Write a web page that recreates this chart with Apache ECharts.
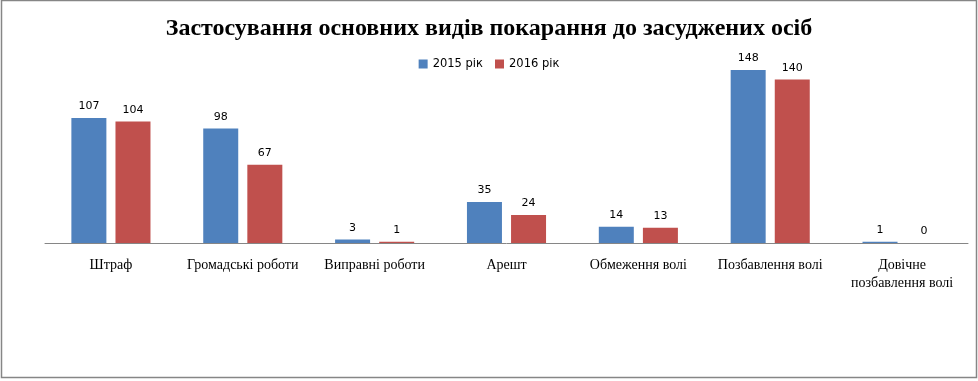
<!DOCTYPE html>
<html><head><meta charset="utf-8">
<script src="https://cdn.jsdelivr.net/npm/echarts@6/dist/echarts.min.js"></script>
<style>html,body{margin:0;padding:0;background:#fff}#c{width:978px;height:381px}</style>
</head><body><div id="c"></div>
<script>
const categories = ['Штраф','Громадські роботи','Виправні роботи','Арешт','Обмеження волі','Позбавлення волі','Довічне\nпозбавлення волі'];
const series2015 = [107, 98, 3, 35, 14, 148, 1];
const series2016 = [104, 67, 1, 24, 13, 140, 0];
const seriesNames = ['2015 рік','2016 рік'];
const titleText = 'Застосування основних видів покарання до засуджених осіб';

const chart = echarts.init(document.getElementById('c'));
const lbl = {show:true, position:'top', distance:6, color:'#000', fontFamily:'DejaVu Sans', fontSize:11};
chart.setOption({
  animation:false,
  backgroundColor:'#fff',
  graphic:[{type:'rect', shape:{x:1.5,y:0.5,width:975,height:377}, style:{fill:'none', stroke:'#868686', lineWidth:1.5}, silent:true}],
  title:{text:titleText, left:'center', top:12, textStyle:{fontFamily:'Liberation Serif', fontWeight:'bold', fontSize:24, color:'#000'}},
  legend:{data:seriesNames, top:53, left:'center', itemWidth:9, itemHeight:9, itemGap:12, icon:'rect',
    textStyle:{fontFamily:'DejaVu Sans', fontSize:11.5, color:'#000'}},
  grid:{left:45, right:10, top:56, bottom:138},
  xAxis:{type:'category', data:categories, axisTick:{show:false},
    axisLine:{lineStyle:{color:'#868686'}},
    axisLabel:{margin:13, color:'#000', fontFamily:'Liberation Serif', fontSize:14, lineHeight:18, interval:0}},
  yAxis:{type:'value', min:0, max:160, show:false, splitLine:{show:false}},
  series:[
    {name:seriesNames[0], type:'bar', data:series2015, barWidth:35, barGap:'26%', itemStyle:{color:'#4f81bd'}, label:lbl},
    {name:seriesNames[1], type:'bar', data:series2016, barWidth:35, itemStyle:{color:'#c0504d'}, label:lbl}
  ]
});
</script></body></html>
